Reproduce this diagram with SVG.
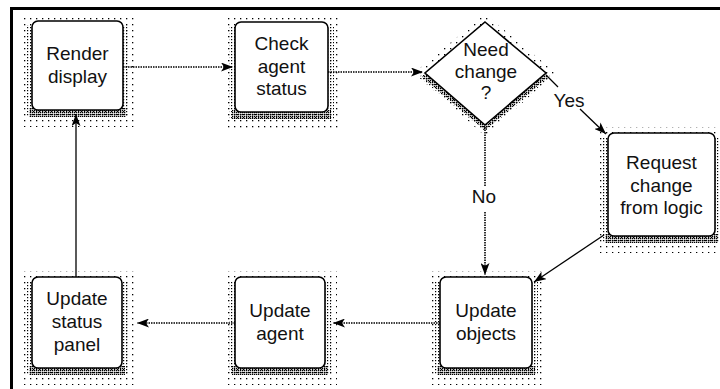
<svg xmlns="http://www.w3.org/2000/svg" width="720" height="389" viewBox="0 0 720 389">
  <style>
    .box { fill: #fff; stroke: #000; stroke-width: 1.6; }
    .lbl { font-family: "Liberation Sans", Arial, sans-serif; font-size: 19px; fill: #111; text-anchor: middle; }
    .dotline { fill: none; stroke: #000; stroke-width: 1.6; stroke-dasharray: 1.5 1; }
    .solid { fill: none; stroke: #000; stroke-width: 1.3; }
    .sh-sparse { fill: url(#dotsSparse); }
    .sh-mid { fill: url(#dotsMid); }
    .sh-dense { fill: url(#dotsDense); }
  </style>
  <defs>
    <pattern id="dotsSparse" width="6" height="6" patternUnits="userSpaceOnUse">
      <rect width="1.3" height="1.3" fill="#000"/>
    </pattern>
    <pattern id="dotsMid" width="3" height="3" patternUnits="userSpaceOnUse">
      <rect width="1.2" height="1.2" fill="#000"/>
    </pattern>
    <pattern id="dotsDense" width="2" height="2" patternUnits="userSpaceOnUse">
      <rect width="1.3" height="1.3" fill="#000"/>
    </pattern>
    <marker id="arrow" viewBox="0 0 12 9" markerWidth="12" markerHeight="9" refX="12" refY="4.5" orient="auto" markerUnits="userSpaceOnUse">
      <path d="M0,0 L12,4.5 L0,9 L3,4.5 z" fill="#000"/>
    </marker>
  </defs>

  <rect width="720" height="389" fill="#fff"/>
  <!-- frame -->
  <path d="M11.5,389 V8.5 H720" fill="none" stroke="#000" stroke-width="3"/>

  <g id="render-display">
    <rect class="sh-sparse" x="21" y="15" width="114" height="112"/>
    <rect class="sh-mid" x="26" y="25" width="103" height="92"/>
    <rect class="sh-dense" x="29" y="108" width="97" height="9"/>
    <rect class="box" x="32" y="21" width="91" height="89" rx="6"/>
    <text class="lbl" x="77.5" y="60">Render</text>
    <text class="lbl" x="77.5" y="83">display</text>
  </g>

  <g id="check-agent-status">
    <rect class="sh-sparse" x="224" y="16" width="116" height="113"/>
    <rect class="sh-mid" x="229" y="26" width="105" height="93"/>
    <rect class="sh-dense" x="232" y="110" width="99" height="9"/>
    <rect class="box" x="235" y="22" width="93" height="90" rx="6"/>
    <text class="lbl" x="281.5" y="50">Check</text>
    <text class="lbl" x="281.5" y="72.5">agent</text>
    <text class="lbl" x="281.5" y="95">status</text>
  </g>

  <g id="need-change">
    <polygon class="sh-sparse" points="485,14 556,73 485,136 414,73"/>
    <polygon class="sh-mid" points="485,26 551,77 485,131 419,77"/>
    <polygon class="sh-dense" points="422,77 485,130 548,77 545,73 485,124 427,73"/>
    <polygon class="box" points="485,22 546,73 485,125 425,73"/>
    <text class="lbl" x="486" y="56">Need</text>
    <text class="lbl" x="486" y="78">change</text>
    <text class="lbl" x="486" y="99">?</text>
  </g>

  <g id="request-change">
    <rect class="sh-sparse" x="597" y="127" width="130" height="126"/>
    <rect class="sh-mid" x="602" y="137" width="119" height="106"/>
    <rect class="sh-dense" x="605" y="234" width="113" height="9"/>
    <rect class="box" x="608" y="133" width="107" height="103" rx="6"/>
    <text class="lbl" x="661.5" y="169">Request</text>
    <text class="lbl" x="661.5" y="191.5">change</text>
    <text class="lbl" x="661.5" y="214">from logic</text>
  </g>

  <g id="update-status-panel">
    <rect class="sh-sparse" x="21" y="271" width="113" height="114"/>
    <rect class="sh-mid" x="26" y="281" width="102" height="94"/>
    <rect class="sh-dense" x="29" y="366" width="96" height="9"/>
    <rect class="box" x="32" y="277" width="90" height="91" rx="6"/>
    <text class="lbl" x="77" y="305">Update</text>
    <text class="lbl" x="77" y="328">status</text>
    <text class="lbl" x="77" y="351">panel</text>
  </g>

  <g id="update-agent">
    <rect class="sh-sparse" x="224" y="271" width="113" height="114"/>
    <rect class="sh-mid" x="229" y="281" width="102" height="94"/>
    <rect class="sh-dense" x="232" y="366" width="96" height="9"/>
    <rect class="box" x="235" y="277" width="90" height="91" rx="6"/>
    <text class="lbl" x="280" y="317">Update</text>
    <text class="lbl" x="280" y="340">agent</text>
  </g>

  <g id="update-objects">
    <rect class="sh-sparse" x="429" y="271" width="115" height="114"/>
    <rect class="sh-mid" x="434" y="281" width="104" height="94"/>
    <rect class="sh-dense" x="437" y="366" width="98" height="9"/>
    <rect class="box" x="440" y="277" width="92" height="91" rx="6"/>
    <text class="lbl" x="486" y="317">Update</text>
    <text class="lbl" x="486" y="340">objects</text>
  </g>

  <g id="connectors">
    <path class="dotline" d="M123,67 H233" marker-end="url(#arrow)"/>
    <path class="dotline" d="M328,72 H423" marker-end="url(#arrow)"/>
    <path class="solid" d="M546,75 L558,87"/>
    <path class="solid" d="M580,109 L606,134" marker-end="url(#arrow)"/>
    <path class="dotline" d="M485,127 V186"/>
    <path class="dotline" d="M485,212 V275" marker-end="url(#arrow)"/>
    <path class="solid" d="M604,235 L534,282" marker-end="url(#arrow)"/>
    <path class="dotline" d="M440,323 H333" marker-end="url(#arrow)"/>
    <path class="dotline" d="M235,323 H137" marker-end="url(#arrow)"/>
    <path class="solid" d="M76,277 V114" marker-end="url(#arrow)"/>
    <text class="lbl" x="569" y="107">Yes</text>
    <text class="lbl" x="484" y="203">No</text>
  </g>
</svg>
